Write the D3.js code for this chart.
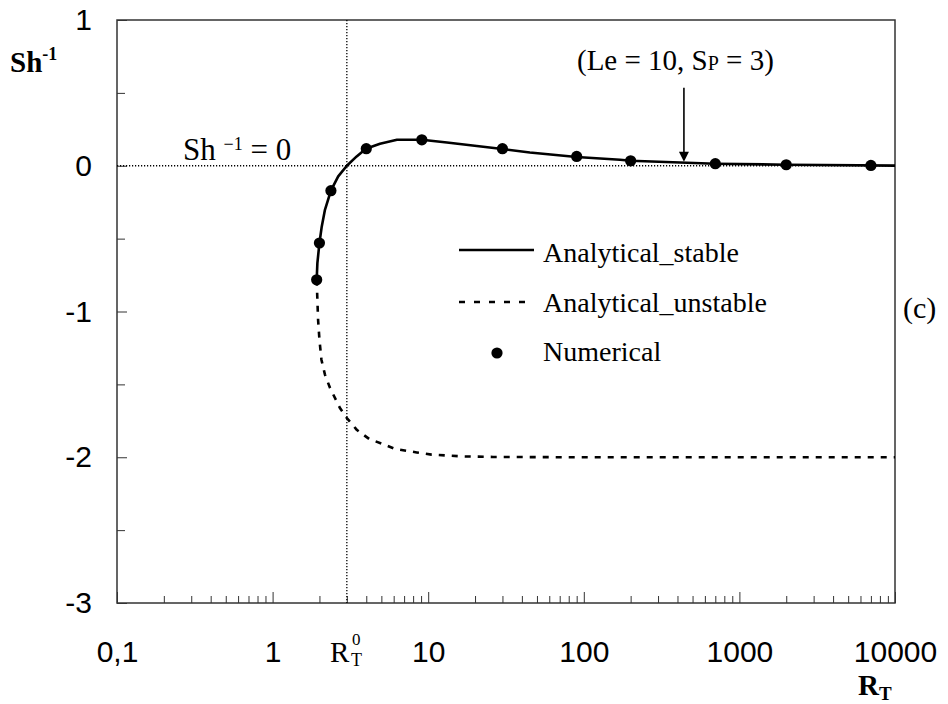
<!DOCTYPE html>
<html>
<head>
<meta charset="utf-8">
<script src="https://cdn.jsdelivr.net/npm/d3@7/dist/d3.min.js"></script>
<style>
  body { margin: 0; background: #fff; }
  svg { display: block; }
  .serif { font-family: "Liberation Serif", "Times New Roman", serif; fill: #000; }
  .tick line { stroke: #333; stroke-width: 1; }
  .tick text { font-family: "Liberation Sans", Arial, sans-serif; font-size: 30px; fill: #000; }
</style>
</head>
<body>
<div id="chart"></div>
<script>
// axis ticks
var xMajor = [0.1, 1, 10, 100, 1000, 10000];
var xMajorLabels = ["0,1", "1", "10", "100", "1000", "10000"];
var yMajor = [-3, -2, -1, 0, 1];
var yMinor = [-2.5, -1.5, -0.5, 0.5];
var rt0 = 3; // R_T^0, where Sh^-1 crosses zero

// analytical stable branch (R_T, Sh^-1)
var stableX = [1.92, 1.94, 2.0, 2.07, 2.17, 2.37, 2.64, 3.0, 3.47, 3.98, 4.9, 6.3, 9.1, 13.2, 30, 45, 90, 171, 200, 700, 2000, 10000];
var stableY = [-0.782, -0.668, -0.53, -0.416, -0.302, -0.171, -0.073, 0, 0.064, 0.117, 0.151, 0.178, 0.178, 0.16, 0.115, 0.091, 0.06, 0.041, 0.034, 0.014, 0.007, 0.001];

// analytical unstable branch
var unstableX = [1.92, 1.94, 1.96, 2.0, 2.06, 2.17, 2.34, 2.71, 3.0, 3.47, 4.18, 5.1, 6.12, 8.44, 10.5, 16.4, 26.1, 90, 10000];
var unstableY = [-0.782, -0.919, -1.056, -1.193, -1.331, -1.433, -1.525, -1.662, -1.731, -1.811, -1.875, -1.909, -1.943, -1.967, -1.982, -1.994, -1.998, -2.0, -2.0];

// numerical results
var numX = [1.92, 2.0, 2.37, 4.0, 9.1, 30, 90, 200, 700, 2000, 7000];
var numY = [-0.782, -0.53, -0.171, 0.117, 0.178, 0.117, 0.064, 0.034, 0.014, 0.007, 0.002];

// arrow of the (Le = 10, Sp = 3) note
var arrowX = 440, arrowFrom = 0.535, arrowTo = 0.027;

var width = 948, height = 704;

var svg = d3.select("#chart")
    .append("svg")
    .attr("width", width)
    .attr("height", height);

var x = d3.scaleLog()
    .domain([0.1, 10000])
    .range([117, 895]);

var y = d3.scaleLinear()
    .domain([-3, 1])
    .range([603, 20]);

function isMajor(d){
    var l = Math.log10(d);
    return Math.abs(l - Math.round(l)) < 1e-9;
}

//frame
svg.append("rect")
    .attr("x", x.range()[0])
    .attr("y", y.range()[1])
    .attr("width", x.range()[1] - x.range()[0])
    .attr("height", y.range()[0] - y.range()[1])
    .attr("fill", "none")
    .attr("stroke", "#333")
    .attr("stroke-width", 1.5);

// x axis, ticks pointing inward
var xAxis = d3.axisBottom(x)
    .tickValues(x.ticks())
    .tickSize(-7)
    .tickPadding(38)
    .tickFormat(function(d){
        if (!isMajor(d)) return "";
        return xMajorLabels[xMajor.findIndex(function(m){ return Math.abs(m - d) < 1e-9; })];
    });

var gx = svg.append("g")
    .attr("transform", "translate(0," + y.range()[0] + ")")
    .call(xAxis);
gx.select(".domain").remove();
gx.selectAll(".tick line")
    .attr("y2", function(d){ return isMajor(d) ? -11 : -7; });
gx.attr("font-family", null).attr("font-size", null);

// y axis
var yAxis = d3.axisLeft(y)
    .tickValues(yMajor.concat(yMinor))
    .tickSize(-8)
    .tickPadding(25)
    .tickFormat(function(d){ return yMajor.indexOf(d) >= 0 ? String(d) : ""; });

var gy = svg.append("g")
    .attr("transform", "translate(" + x.range()[0] + ",0)")
    .call(yAxis);
gy.select(".domain").remove();
gy.selectAll(".tick line")
    .attr("x2", function(d){ return yMajor.indexOf(d) >= 0 ? 10 : 8; });
gy.attr("font-family", null).attr("font-size", null);

// dotted reference lines
svg.append("line")
    .attr("x1", x.range()[0]).attr("x2", x.range()[1])
    .attr("y1", y(0)).attr("y2", y(0))
    .attr("stroke", "#000").attr("stroke-width", 1.3)
    .attr("stroke-dasharray", "1.2,1.8");

svg.append("line")
    .attr("x1", x(rt0)).attr("x2", x(rt0))
    .attr("y1", y.range()[1]).attr("y2", y.range()[0])
    .attr("stroke", "#000").attr("stroke-width", 1.3)
    .attr("stroke-dasharray", "1.2,1.8");

var line = d3.line()
    .x(function(d){ return x(d[0]); })
    .y(function(d){ return y(d[1]); });

var stable = d3.zip(stableX, stableY),
    unstable = d3.zip(unstableX, unstableY),
    numerical = d3.zip(numX, numY);

svg.append("path")
    .datum(unstable)
    .attr("d", line)
    .attr("fill", "none")
    .attr("stroke", "#000")
    .attr("stroke-width", 2.6)
    .attr("stroke-dasharray", "6,7");

svg.append("path")
    .datum(stable)
    .attr("d", line)
    .attr("fill", "none")
    .attr("stroke", "#000")
    .attr("stroke-width", 2.6)
    .attr("stroke-linejoin", "round");

svg.selectAll(".num")
    .data(numerical)
    .enter()
    .append("circle")
    .attr("class", "num")
    .attr("cx", function(d){ return x(d[0]); })
    .attr("cy", function(d){ return y(d[1]); })
    .attr("r", 5.6)
    .attr("fill", "#000");

// arrow
svg.append("line")
    .attr("x1", x(arrowX)).attr("x2", x(arrowX))
    .attr("y1", y(arrowFrom)).attr("y2", y(arrowTo) - 8)
    .attr("stroke", "#000").attr("stroke-width", 1.6);
svg.append("path")
    .attr("d", "M" + (x(arrowX) - 5) + "," + (y(arrowTo) - 10) +
               "L" + (x(arrowX) + 5) + "," + (y(arrowTo) - 10) +
               "L" + x(arrowX) + "," + y(arrowTo) + "Z")
    .attr("fill", "#000");

// annotation
var note = svg.append("text")
    .attr("class", "serif")
    .attr("x", 577).attr("y", 70)
    .style("font-size", "29px");
note.append("tspan").text("(Le = 10, S");
note.append("tspan").style("font-size", "20px").text("P");
note.append("tspan").text(" = 3)");

// Sh^-1 = 0 label
var zero = svg.append("text")
    .attr("class", "serif")
    .attr("x", 183).attr("y", 160)
    .style("font-size", "31px");
zero.append("tspan").text("Sh ");
zero.append("tspan").attr("dy", -10).style("font-size", "18px").text("\u22121");
zero.append("tspan").attr("dy", 10).text(" = 0");

// y title
var ytitle = svg.append("text")
    .attr("class", "serif")
    .attr("x", 10).attr("y", 72)
    .style("font-size", "29px")
    .style("font-weight", "bold");
ytitle.append("tspan").text("Sh");
ytitle.append("tspan").attr("dy", -12).style("font-size", "18px").text("-1");

// x title
var xtitle = svg.append("text")
    .attr("class", "serif")
    .attr("x", 858).attr("y", 695)
    .style("font-size", "29px")
    .style("font-weight", "bold");
xtitle.append("tspan").text("R");
xtitle.append("tspan").attr("dy", 5).style("font-size", "19px").text("T");

// R_T^0 label
svg.append("text")
    .attr("class", "serif")
    .attr("x", 330).attr("y", 662)
    .style("font-size", "29px")
    .text("R");
svg.append("text")
    .attr("class", "serif")
    .attr("x", 352).attr("y", 645)
    .style("font-size", "17px")
    .text("0");
svg.append("text")
    .attr("class", "serif")
    .attr("x", 351).attr("y", 666)
    .style("font-size", "18px")
    .text("T");

// panel letter
svg.append("text")
    .attr("class", "serif")
    .attr("x", 903).attr("y", 318)
    .style("font-size", "30px")
    .text("(c)");

// legend
var legend = svg.append("g").attr("class", "legend");

legend.append("line")
    .attr("x1", 459).attr("x2", 534)
    .attr("y1", 250).attr("y2", 250)
    .attr("stroke", "#000").attr("stroke-width", 2.6);
legend.append("text").attr("class", "serif")
    .attr("x", 543).attr("y", 262)
    .style("font-size", "28px")
    .text("Analytical_stable");

legend.append("line")
    .attr("x1", 459).attr("x2", 529)
    .attr("y1", 302).attr("y2", 302)
    .attr("stroke", "#000").attr("stroke-width", 2.6)
    .attr("stroke-dasharray", "6,9");
legend.append("text").attr("class", "serif")
    .attr("x", 543).attr("y", 312)
    .style("font-size", "28px")
    .text("Analytical_unstable");

legend.append("circle")
    .attr("cx", 497).attr("cy", 353)
    .attr("r", 5.6)
    .attr("fill", "#000");
legend.append("text").attr("class", "serif")
    .attr("x", 543).attr("y", 361)
    .style("font-size", "28px")
    .text("Numerical");
</script>
</body>
</html>
